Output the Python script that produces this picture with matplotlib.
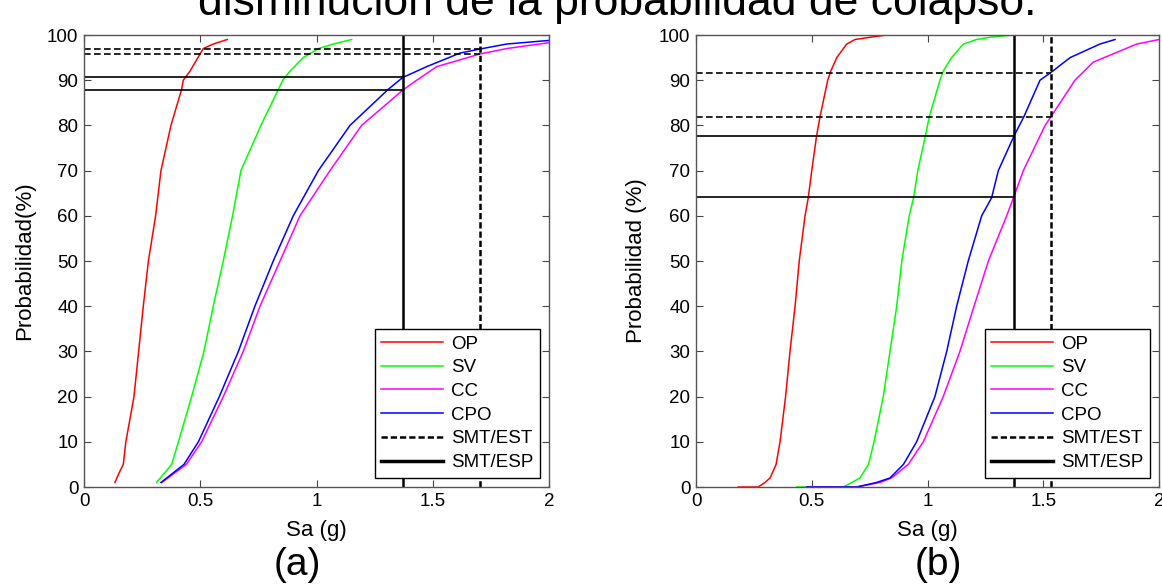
import numpy as np
import matplotlib
matplotlib.use("Agg")
import matplotlib.pyplot as plt

plt.rcParams['font.family'] = ['Liberation Sans', 'DejaVu Sans']

# ---- panel (a) ----
a_op_sa = [0.133, 0.15, 0.169, 0.18, 0.215, 0.235, 0.255, 0.277, 0.308, 0.331, 0.374, 0.42, 0.427, 0.456, 0.49, 0.513, 0.556, 0.616]
a_op_p = [1, 3, 5, 10, 20, 30, 40, 50, 60, 70, 80, 88, 90, 92, 95, 97, 98, 99]
a_sv_sa = [0.312, 0.377, 0.406, 0.463, 0.516, 0.556, 0.599, 0.639, 0.675, 0.761, 0.855, 0.886, 0.943, 1.008, 1.072, 1.151]
a_sv_p = [1, 5, 10, 20, 30, 40, 50, 60, 70, 80, 90, 92, 95, 97, 98, 99]
a_cc_sa = [0.335, 0.44, 0.506, 0.599, 0.685, 0.757, 0.843, 0.929, 1.058, 1.194, 1.371, 1.431, 1.517, 1.703, 1.818, 2.0]
a_cc_p = [1, 5, 10, 20, 30, 40, 50, 60, 70, 80, 87.8, 90, 93, 95.8, 97, 98.3]
a_cpo_sa = [0.331, 0.43, 0.492, 0.582, 0.664, 0.735, 0.814, 0.90, 1.008, 1.144, 1.309, 1.371, 1.474, 1.617, 1.703, 1.818, 2.0]
a_cpo_p = [1, 5, 10, 20, 30, 40, 50, 60, 70, 80, 88, 90.6, 93, 96, 96.9, 98, 98.8]
a_est_sa = 1.703
a_est_p = [96.9, 95.8]
a_esp_sa = 1.371
a_esp_p = [90.6, 87.8]

# ---- panel (b) ----
b_op_sa = [0.183, 0.269, 0.298, 0.32, 0.346, 0.363, 0.387, 0.406, 0.428, 0.446, 0.471, 0.485, 0.50, 0.521, 0.536, 0.569, 0.582, 0.608, 0.651, 0.687, 0.752, 0.824, 1.054]
b_op_p = [0, 0, 1, 2, 5, 10, 20, 30, 40, 50, 60, 64, 70, 77.7, 82, 90, 92, 95, 98, 99, 99.5, 100, 100]
b_sv_sa = [0.435, 0.636, 0.673, 0.708, 0.745, 0.769, 0.809, 0.838, 0.867, 0.889, 0.921, 0.94, 0.958, 0.991, 1.008, 1.054, 1.068, 1.104, 1.155, 1.212, 1.27, 1.37, 1.616]
b_sv_p = [0, 0, 1, 2, 5, 10, 20, 30, 40, 50, 60, 64, 70, 77.7, 82, 90, 92, 95, 98, 99, 99.5, 100, 100]
b_cc_sa = [0.48, 0.694, 0.795, 0.845, 0.917, 0.982, 1.068, 1.14, 1.201, 1.263, 1.342, 1.372, 1.414, 1.508, 1.533, 1.637, 1.716, 1.81, 1.904, 2.0]
b_cc_p = [0, 0, 1, 2, 5, 10, 20, 30, 40, 50, 60, 64.1, 70, 80, 81.9, 90, 94, 96, 98, 99]
b_cpo_sa = [0.478, 0.694, 0.78, 0.838, 0.896, 0.953, 1.032, 1.083, 1.126, 1.176, 1.234, 1.277, 1.306, 1.374, 1.417, 1.486, 1.533, 1.616, 1.702, 1.745, 1.81]
b_cpo_p = [0, 0, 1, 2, 5, 10, 20, 30, 40, 50, 60, 64, 70, 77.7, 82, 90, 91.7, 95, 97, 98, 99]
b_est_sa = 1.533
b_est_p = [91.7, 81.9]
b_esp_sa = 1.372
b_esp_p = [77.7, 64.1]

x_ticks = [0, 0.5, 1, 1.5, 2]
x_labels = ['0', '0.5', '1', '1.5', '2']
y_ticks = list(range(0, 101, 10))

title = 'disminución de la probabilidad de colapso.'
ylabels = ['Probabilidad(%)', 'Probabilidad (%)']
panel_tags = ['(a)', '(b)']


def draw_panel(ax, curves, est_sa, est_p, esp_sa, esp_p, ylabel):
    names = ['OP', 'SV', 'CC', 'CPO']
    colors = ['#ff0000', '#00ff00', '#ff00ff', '#0000ff']
    for (sa, p), name, c in zip(curves, names, colors):
        ax.plot(sa, p, color=c, lw=1.1, label=name)
    # horizontal reference lines
    for p in est_p:
        ax.plot([0, est_sa], [p, p], color='black', lw=1.2, dashes=(4, 2))
    for p in esp_p:
        ax.plot([0, esp_sa], [p, p], color='black', lw=1.2)
    ax.plot([est_sa, est_sa], [0, 100], color='black', lw=1.8, dashes=(2.5, 1.2),
            label='SMT/EST')
    ax.plot([esp_sa, esp_sa], [0, 100], color='black', lw=1.8, label='SMT/ESP')

    ax.set_xlim(0, 2)
    ax.set_ylim(0, 100)
    ax.set_xticks(x_ticks)
    ax.set_xticklabels(x_labels)
    ax.set_yticks(y_ticks)
    ax.tick_params(direction='in', top=True, right=True, length=5,
                   labelsize=13.5, pad=4, color='#444444')
    for s in ax.spines.values():
        s.set_color('#555555')
        s.set_linewidth(1)
    ax.set_xlabel('Sa (g)', fontsize=16, va='top')
    ax.xaxis.set_label_coords(0.5, -0.073)
    ax.set_ylabel(ylabel, fontsize=16)
    ax.yaxis.set_label_coords(-0.105, 0.5)

    leg = ax.legend(loc='lower right', fontsize=13.5, frameon=True, fancybox=False,
                    framealpha=1, edgecolor='black', handlelength=3.3,
                    handletextpad=0.4, labelspacing=0.35, borderpad=0.35,
                    borderaxespad=0.5)
    leg.get_frame().set_linewidth(1)
    for h in leg.get_lines():
        if h.get_label() == 'SMT/ESP':
            h.set_linewidth(2.5)


fig = plt.figure(figsize=(11.62, 5.86), dpi=100)
ax1 = fig.add_axes([84 / 1162, 99 / 586, 465 / 1162, 452 / 586])
ax2 = fig.add_axes([696 / 1162, 99 / 586, 463 / 1162, 452 / 586])

draw_panel(ax1, [(a_op_sa, a_op_p), (a_sv_sa, a_sv_p), (a_cc_sa, a_cc_p), (a_cpo_sa, a_cpo_p)],
           a_est_sa, a_est_p, a_esp_sa, a_esp_p, ylabels[0])
draw_panel(ax2, [(b_op_sa, b_op_p), (b_sv_sa, b_sv_p), (b_cc_sa, b_cc_p), (b_cpo_sa, b_cpo_p)],
           b_est_sa, b_est_p, b_esp_sa, b_esp_p, ylabels[1])

fig.text(198 / 1162, 1 - 15 / 586, title, fontsize=32, ha='left', va='baseline')
fig.text(297 / 1162, 0.035, panel_tags[0], fontsize=28, ha='center', va='center')
fig.text(938 / 1162, 0.035, panel_tags[1], fontsize=28, ha='center', va='center')

fig.savefig('out.png', dpi=100)
